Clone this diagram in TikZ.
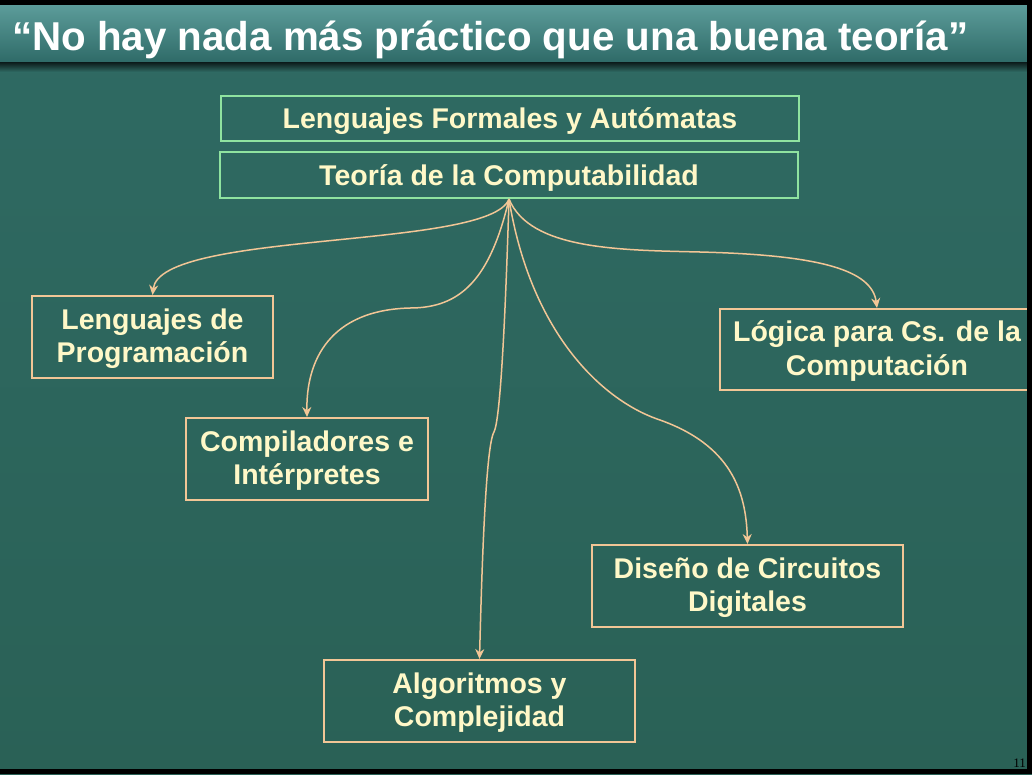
\documentclass[tikz,border=0pt]{standalone}
\usepackage{fontspec}
\setmainfont{Liberation Sans}
\newfontfamily\pagefont{Liberation Serif}
\usetikzlibrary{arrows.meta}
\definecolor{bgcol}{HTML}{2A6156}
\definecolor{bgtop}{HTML}{2F6A63}
\definecolor{titletop}{HTML}{5C9C9A}
\definecolor{titlebot}{HTML}{2E6A67}
\definecolor{greenline}{HTML}{8FE3A0}
\definecolor{peach}{HTML}{F2C696}
\definecolor{txtcol}{HTML}{FFF8C8}
\tikzset{
  topbox/.style={draw=greenline, line width=2pt, minimum width=578pt, minimum height=45pt, text=txtcol, font=\bfseries\fontsize{28.5}{33}\selectfont, inner sep=0pt, text height=25pt, text depth=4pt},
  subbox/.style={draw=peach, line width=2pt, text=txtcol, font=\bfseries\fontsize{28.5}{33.5}\selectfont, align=center, inner sep=0pt, text height=55pt, text depth=4pt},
  conn/.style={draw=peach, line width=1.5pt, -{Stealth[length=10pt,width=9pt]}}
}
\begin{document}
\begin{tikzpicture}[x=1pt,y=-1pt]
\useasboundingbox (0,0) rectangle (1032,774);
% background
\fill[top color=bgtop, bottom color=bgcol] (0,0) rectangle (1032,774);
% title bar
\fill[top color=titletop, bottom color=titlebot] (0,5) rectangle (1032,63);
\fill[top color=black!75!titlebot, bottom color=bgtop] (0,62) rectangle (1032,72);
\node[anchor=base west, text=white, font=\bfseries\fontsize{40.3}{42}\selectfont, inner sep=0pt] (title) at (12,50) {“No hay nada más práctico que una buena teoría”};
% boxes
\node[topbox] (lfa) at (510,118) {Lenguajes Formales y Autómatas};
\node[topbox, minimum height=46pt] (tc) at (509,175) {Teoría de la Computabilidad};
\node[subbox, minimum width=241pt, minimum height=82pt] (lp) at (152.5,337) {Lenguajes de\\Programación};
\node[subbox, minimum width=242pt, minimum height=82pt] (ci) at (307,459) {Compiladores e\\Intérpretes};
\node[subbox, minimum width=314pt, minimum height=81pt] (lcc) at (877,349.5) {Lógica para Cs. de la\\Computación};
\node[subbox, minimum width=311pt, minimum height=82pt] (dcd) at (747.5,586) {Diseño de Circuitos\\Digitales};
\node[subbox, minimum width=311pt, minimum height=82pt] (ac) at (479.5,701) {Algoritmos y\\Complejidad};
% connectors
\coordinate (src) at (tc.south);
\draw[conn] (src) .. controls (490,250) and (160,230) .. (lp.north);
\draw[conn] (src) .. controls (490,280) and (460,308) .. (410,308) .. controls (330,310) and (306,360) .. (ci.north);
\draw[conn] (src) .. controls (505,330) and (500,420) .. (494,432) .. controls (486,445) and (482,560) .. (ac.north);
\draw[conn] (src) .. controls (530,330) and (600,400) .. (660,420) .. controls (730,445) and (746,490) .. (dcd.north);
\draw[conn] (src) .. controls (530,250) and (620,250) .. (700,252) .. controls (820,255) and (872,270) .. (lcc.north);
% black frame
\fill[black] (0,0) rectangle (1032,5);
\fill[black] (1027,0) rectangle (1032,774);
\fill[black] (0,769) rectangle (1032,774);
\node[anchor=base east, inner sep=0pt, font=\pagefont\fontsize{13}{13}\selectfont, text=black] (pg) at (1026,767) {11};
\end{tikzpicture}
\end{document}
